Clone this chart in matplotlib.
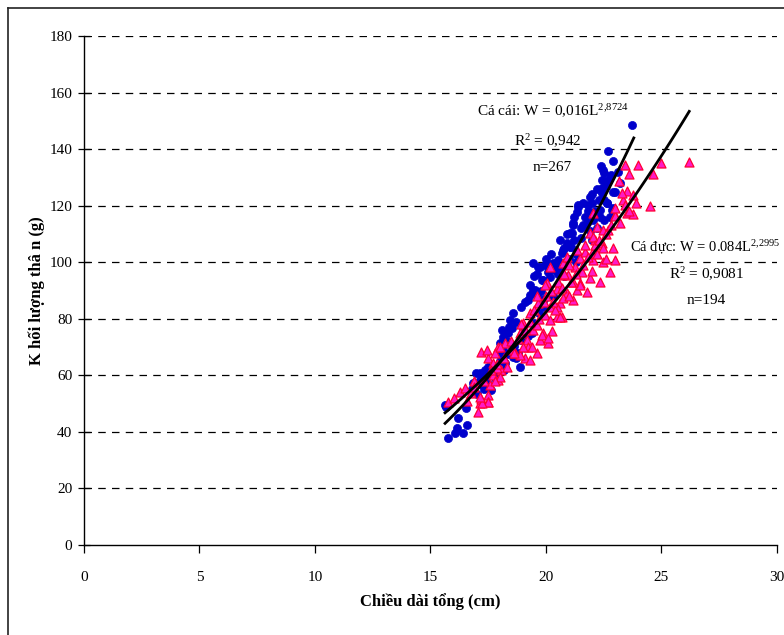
import matplotlib
matplotlib.use("Agg")
import matplotlib.pyplot as plt
import numpy as np
from matplotlib.lines import Line2D

plt.rcParams['font.family'] = ['Liberation Serif', 'DejaVu Serif']
plt.rcParams['mathtext.fontset'] = 'custom'
plt.rcParams['mathtext.rm'] = 'Liberation Serif'
plt.rcParams['mathtext.it'] = 'Liberation Serif'

# Female (Cá cái): total length (cm), weight (g)
female_L = [15.63, 15.77, 16.06, 16.13, 16.42, 16.57, 16.55, 15.69, 16.98, 17.13, 17.35, 17.49,
            17.63, 18.21, 18.71, 18.86, 17.0, 17.14, 16.85, 17.3, 17.5, 17.6, 17.8, 17.9,
            18.01, 18.08, 18.15, 18.15, 18.36, 18.44, 18.51, 18.51, 18.58, 18.58, 18.0, 18.3,
            18.6, 18.8, 19.0, 19.23, 19.31, 19.45, 19.52, 19.6, 19.81, 20.17, 19.4, 19.5,
            19.7, 19.45, 19.67, 19.96, 19.88, 20.1, 20.39, 20.03, 19.74, 20.32, 20.53, 20.75,
            20.9, 21.04, 20.68, 20.6, 21.0, 21.1, 21.04, 21.11, 21.18, 21.18, 21.33, 21.4,
            21.4, 21.62, 21.69, 21.76, 21.83, 21.9, 21.98, 22.05, 22.34, 22.34, 22.63, 22.63,
            22.84, 22.77, 22.47, 22.7, 22.41, 22.41, 22.41, 22.52, 22.67, 22.89, 23.74, 23.0,
            22.9, 23.2, 22.2, 22.0, 21.5, 21.3, 20.8, 20.3, 19.9, 19.2, 18.9, 17.4, 22.5, 22.1,
            16.2, 16.8, 17.2, 17.7, 18.0, 18.3, 18.4, 18.7, 18.9, 19.1, 19.3, 19.5,
            19.6, 19.8, 20.0, 20.2, 20.4, 20.6, 20.8, 20.9, 21.2, 21.2, 21.5, 21.6,
            21.8, 22.0, 22.2, 22.3, 22.5, 22.6, 22.8, 22.9, 23.1, 22.4, 21.9, 21.3,
            20.5, 19.9, 19.0, 18.2]
female_W = [49.5, 37.7, 39.5, 41.3, 39.5, 42.4, 48.3, 48.9, 60.7, 60.7, 61.9, 63.1,
            54.8, 64.3, 66.0, 63.1, 53.5, 58.3, 57.2, 55.0, 57.0, 61.0, 59.0, 62.0,
            71.3, 76.0, 73.7, 69.0, 74.8, 79.6, 76.6, 70.1, 81.9, 66.6, 65.0, 67.5,
            70.5, 68.0, 76.0, 86.6, 88.4, 90.2, 90.2, 88.4, 93.7, 94.9, 75.0, 78.5,
            82.0, 99.6, 98.4, 99.0, 93.7, 96.6, 97.2, 99.0, 98.4, 99.6, 100.8, 104.3,
            106.7, 105.5, 103.1, 97.5, 101.0, 105.5, 110.2, 110.2, 113.2, 113.7, 117.8, 119.6,
            120.2, 113.2, 116.1, 113.7, 120.2, 123.0, 120.8, 114.9, 118.5, 116.1, 120.8, 120.8,
            118.5, 116.1, 132.6, 129.0, 124.4, 126.1, 129.1, 131.6, 139.4, 135.9, 148.5, 125.0,
            119.0, 128.0, 112.0, 108.0, 108.5, 103.0, 95.0, 88.0, 84.0, 74.0, 72.5, 59.0, 115.0, 118.0,
            45.0, 55.0, 57.0, 63.0, 68.0, 72.0, 77.0, 79.0, 84.0, 86.0, 92.0, 95.0,
            96.0, 90.0, 101.0, 103.0, 99.0, 108.0, 105.0, 110.0, 108.0, 116.0, 112.0, 121.0,
            118.0, 124.0, 126.0, 122.0, 122.0, 127.0, 131.0, 125.0, 132.0, 134.0, 111.0, 100.0,
            96.0, 87.0, 73.0, 62.0]

# Male (Cá đực): total length (cm), weight (g)
male_L = [15.76, 16.26, 16.48, 16.77, 17.06, 17.13, 17.2, 17.49, 17.49, 17.56, 17.71, 17.92,
          18.07, 17.5, 17.22, 17.14, 17.17, 17.49, 17.92, 18.21, 18.64, 19.08, 17.43, 17.79,
          18.58, 18.87, 19.6, 18.01, 18.0, 17.86, 19.16, 19.74, 20.1, 18.87, 19.45, 19.88,
          20.25, 19.02, 19.6, 19.31, 19.96, 20.46, 20.68, 19.67, 20.17, 20.61, 20.03, 20.46,
          20.9, 19.23, 19.31, 19.81, 20.1, 20.17, 20.61, 20.46, 20.75, 21.18, 21.33, 21.47,
          21.76, 19.96, 21.47, 20.75, 21.26, 20.17, 20.68, 20.97, 21.55, 22.77, 21.9, 21.18,
          22.34, 22.05, 22.48, 22.99, 21.47, 21.33, 21.69, 21.98, 22.91, 22.41, 22.12, 21.9,
          22.7, 22.19, 22.05, 22.99, 22.48, 22.05, 22.12, 22.48, 23.49, 23.78, 22.99, 23.35,
          23.42, 23.49, 23.28, 23.78, 23.17, 23.61, 24.62, 23.42, 24.0, 25.0, 26.2, 24.5,
          18.3, 19.0, 20.4, 21.0, 22.6, 16.9, 17.7, 18.9,
          16.0, 16.6, 16.9, 17.3, 17.6, 17.9, 18.2, 18.5, 18.8, 19.1, 19.3, 19.5,
          19.7, 19.9, 20.0, 20.2, 20.3, 20.5, 20.7, 20.8, 21.0, 21.1, 21.3, 21.6,
          21.8, 22.0, 22.2, 22.3, 22.6, 22.8, 23.0, 23.2, 23.6, 23.9, 21.7, 20.9,
          19.6, 18.6, 17.8, 19.4]
male_W = [50.7, 54.2, 55.4, 53.6, 47.1, 50.1, 51.8, 53.0, 50.7, 56.6, 60.1, 58.3,
          61.9, 50.7, 50.1, 52.4, 68.4, 66.0, 70.1, 71.3, 67.8, 66.0, 69.0, 67.8,
          69.0, 67.2, 67.8, 70.1, 59.5, 62.5, 72.5, 72.5, 71.3, 75.0, 76.1, 75.0,
          75.6, 78.4, 77.8, 81.9, 81.3, 80.7, 80.7, 85.5, 84.3, 85.5, 92.5, 90.7,
          89.0, 70.1, 65.4, 74.3, 73.1, 79.6, 80.7, 84.3, 87.2, 86.6, 90.2, 92.5,
          89.6, 91.9, 91.9, 99.6, 98.4, 98.4, 95.5, 95.5, 96.6, 96.6, 94.3, 93.1,
          93.1, 100.8, 100.2, 100.8, 101.4, 104.3, 103.7, 103.1, 104.9, 106.7, 107.9, 110.2,
          111.4, 112.6, 117.3, 116.7, 104.9, 109.0, 106.1, 111.4, 117.3, 116.9, 116.3, 122.0,
          120.2, 125.2, 124.6, 123.8, 128.7, 131.1, 131.1, 134.4, 134.4, 135.0, 135.5, 119.9,
          63.0, 70.0, 83.0, 88.0, 101.0, 58.0, 64.5, 78.0,
          52.0, 51.0, 56.0, 58.0, 62.0, 64.0, 66.0, 72.0, 73.0, 76.0, 79.0, 83.0,
          80.0, 86.0, 88.0, 90.0, 86.0, 93.0, 91.0, 96.0, 99.0, 93.0, 96.0, 99.0,
          102.0, 97.0, 103.0, 108.0, 110.0, 113.0, 119.0, 114.0, 118.0, 121.0, 106.0, 102.0,
          88.0, 68.0, 58.0, 70.0]

# Fitted power curves W = a * L^b
female_a, female_b = 0.016, 2.8724
male_a, male_b = 0.084, 2.2995
female_range = (15.63, 23.8)
male_range = (15.63, 26.2)

x_ticks = [0, 5, 10, 15, 20, 25, 30]
y_ticks = [0, 20, 40, 60, 80, 100, 120, 140, 160, 180]

W, H = 784, 635
fig = plt.figure(figsize=(W / 100, H / 100), dpi=100)
ax = fig.add_axes([84 / W, 1 - 545 / H, (777 - 84) / W, (545 - 36) / H])
ax.set_xlim(0, 30)
ax.set_ylim(0, 180)

for yv in y_ticks[1:]:
    ax.axhline(yv, color='black', lw=0.9, ls=(0, (6, 5)), zorder=1)

ax.scatter(female_L, female_W, s=34, marker='o', facecolor='#0000CC',
           edgecolor='#0000CC', linewidths=0.5, zorder=3)
ax.scatter(male_L, male_W, s=42, marker='^', facecolor='#FF1AC6',
           edgecolor='#FF0033', linewidths=0.9, zorder=4)

fl = np.linspace(female_range[0], female_range[1], 100)
ml = np.linspace(male_range[0], male_range[1], 100)
ax.plot(fl, female_a * fl ** female_b, color='black', lw=2, zorder=5)
ax.plot(ml, male_a * ml ** male_b, color='black', lw=2, zorder=5)

for s in ['top', 'right']:
    ax.spines[s].set_visible(False)
for s in ['left', 'bottom']:
    ax.spines[s].set_color('black')
    ax.spines[s].set_linewidth(1.0)

ax.set_xticks(x_ticks)
ax.set_yticks(y_ticks)
ax.tick_params(axis='x', direction='out', length=6, width=0.9, pad=13, labelsize=11)
ax.tick_params(axis='y', direction='inout', length=9, width=0.9, pad=4, labelsize=11)

ax.set_xlabel('Chiều dài tổng (cm)', fontsize=12, fontweight='bold', labelpad=6)
ax.set_ylabel('K hối lượng thâ n (g)', fontsize=12, fontweight='bold', labelpad=3)

def fx(px):
    return px / W

def fy(py):
    return 1 - py / H

fs_ann = 11
fig.text(fx(477), fy(111), 'Cá cái: W = 0,016L$^{2{,}8724}$', fontsize=fs_ann, va='center', ha='left')
fig.text(fx(548), fy(141), 'R$^{2}$ = 0,942', fontsize=fs_ann, va='center', ha='center')
fig.text(fx(552), fy(167), 'n=267', fontsize=fs_ann, va='center', ha='center')
fig.text(fx(630), fy(248), 'Cá đực: W = 0.084L$^{2{,}2995}$', fontsize=10.5, va='center', ha='left')
fig.text(fx(707), fy(274), 'R$^{2}$ = 0,9081', fontsize=fs_ann, va='center', ha='center')
fig.text(fx(706), fy(300), 'n=194', fontsize=fs_ann, va='center', ha='center')

# chart area border (left and top visible)
fig.add_artist(Line2D([fx(7.5), fx(7.5)], [0, fy(7.5)], color='#222222', lw=1.2))
fig.add_artist(Line2D([fx(7.5), 1.0], [fy(7.5), fy(7.5)], color='#222222', lw=1.2))

fig.savefig('out.png', dpi=100)
